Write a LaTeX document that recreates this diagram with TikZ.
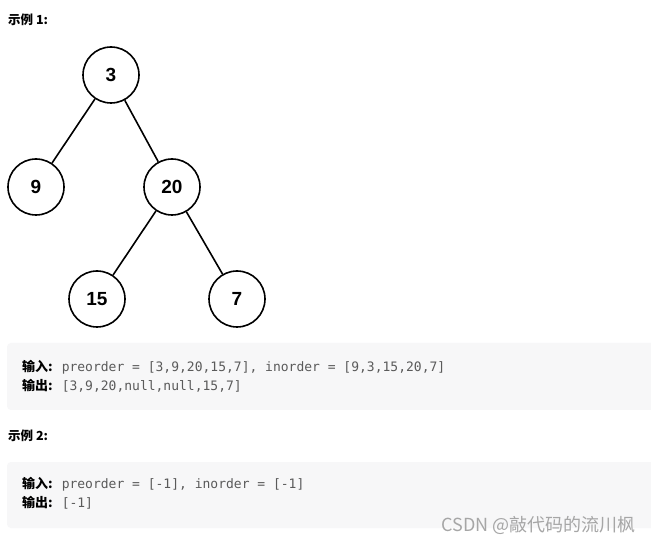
\documentclass[tikz,border=0pt]{standalone}
\usepackage{fontspec}
\setmainfont{Liberation Sans}
\setmonofont{DejaVu Sans Mono}
\newfontfamily\cjk{Noto Sans CJK SC}
\definecolor{boxgray}{HTML}{F7F7F8}
\definecolor{codegray}{HTML}{5A5A5A}
\newcommand{\cnlabel}[1]{{\cjk\bfseries #1}\hspace{9pt}}
\begin{document}
\begin{tikzpicture}[x=1pt,y=-1pt,
    treenode/.style={circle, draw, line width=1.6pt, minimum size=56pt, inner sep=0pt, font=\fontsize{19}{19}\selectfont\bfseries},
    codebox/.style={fill=boxgray, rounded corners=4pt},
    codeline/.style={anchor=west, inner sep=0pt, font=\fontsize{13}{13}\selectfont},
    heading/.style={anchor=west, inner sep=0pt, font=\cjk\fontsize{12.5}{13}\selectfont\bfseries}]
    \useasboundingbox[fill=white] (0,0) rectangle (651,545);
    % example 1: the tree
    \node[heading] (h1) at (8,20) {示例 1:};
    \node[treenode] (n3) at (111,75) {3};
    \node[treenode] (n9) at (36,187) {9};
    \node[treenode] (n20) at (172,187) {20};
    \node[treenode] (n15) at (97,299) {15};
    \node[treenode] (n7) at (237,299) {7};
    \draw[line width=1.6pt] (n3) -- (n9);
    \draw[line width=1.6pt] (n3) -- (n20);
    \draw[line width=1.6pt] (n20) -- (n15);
    \draw[line width=1.6pt] (n20) -- (n7);
    % code blocks
    \fill[codebox] (7,343) rectangle (660,410);
    \node[codeline] (in1) at (22,367) {\cnlabel{输入:}\textcolor{codegray}{\ttfamily preorder = [3,9,20,15,7], inorder = [9,3,15,20,7]}};
    \node[codeline] (out1) at (22,386) {\cnlabel{输出:}\textcolor{codegray}{\ttfamily [3,9,20,null,null,15,7]}};
    \node[heading] (h2) at (8,436) {示例 2:};
    \fill[codebox] (7,462) rectangle (660,528);
    \node[codeline] (in2) at (22,484) {\cnlabel{输入:}\textcolor{codegray}{\ttfamily preorder = [-1], inorder = [-1]}};
    \node[codeline] (out2) at (22,503) {\cnlabel{输出:}\textcolor{codegray}{\ttfamily [-1]}};
    \node[anchor=east, inner sep=0pt, text=gray!70, font=\cjk\fontsize{18}{18}\selectfont] (mark) at (636,525) {CSDN @敲代码的流川枫};
\end{tikzpicture}
\end{document}
